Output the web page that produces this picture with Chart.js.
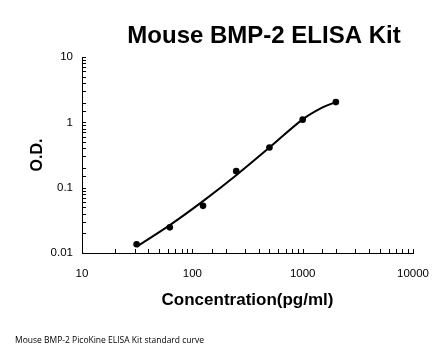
<!DOCTYPE html>
<html>
<head>
<meta charset="utf-8">
<script src="https://cdn.jsdelivr.net/npm/chart.js@4.4.1/dist/chart.umd.min.js"></script>
<style>
  html, body { margin: 0; padding: 0; background: #fff; }
  #wrap { width: 446px; height: 356px; position: relative; }
</style>
</head>
<body>
<div id="wrap"><canvas id="c" width="446" height="356"></canvas></div>
<script>
// ---- data ----
const chartTitle = "Mouse BMP-2 ELISA Kit";
const footnote = "Mouse BMP-2 PicoKine ELISA Kit standard curve";
const xAxisTitle = "Concentration(pg/ml)";
const yAxisTitle = "O.D.";

const concentrations = [31.25, 62.5, 125, 250, 500, 1000, 2000];
const odValues = [0.0136, 0.0247, 0.0527, 0.179, 0.411, 1.10, 2.04];

const curveConc = [31.25, 62.5, 125, 250, 500, 1000, 1500, 2000];
const curveOD = [0.0125, 0.0267, 0.0622, 0.155, 0.411, 1.11, 1.68, 2.04];

const xTickLabels = [10, 100, 1000, 10000];
const yTickLabels = [0.01, 0.1, 1, 10];

const FONT = "'Liberation Sans', Arial, sans-serif";

const pointsData = concentrations.map((x, i) => ({ x: x, y: odValues[i] }));
const curveData = curveConc.map((x, i) => ({ x: x, y: curveOD[i] }));

function isMajor(v, list) {
  return list.some(t => Math.abs(Math.log10(v) - Math.log10(t)) < 1e-6);
}

const insideTicks = {
  id: 'insideTicks',
  afterDraw(chart) {
    const ctx = chart.ctx;
    const xs = chart.scales.x, ys = chart.scales.y;
    const area = chart.chartArea;
    ctx.save();
    ctx.strokeStyle = '#000';
    ctx.lineWidth = 1;
    ctx.beginPath();
    xs.ticks.forEach(t => {
      const px = Math.round(xs.getPixelForValue(t.value)) + 0.5;
      ctx.moveTo(px, area.bottom);
      ctx.lineTo(px, area.bottom - 4);
    });
    ys.ticks.forEach(t => {
      const py = Math.round(ys.getPixelForValue(t.value)) + 0.5;
      ctx.moveTo(area.left, py);
      ctx.lineTo(area.left + 4, py);
    });
    ctx.stroke();
    ctx.restore();
  }
};

const textPlugin = {
  id: 'texts',
  afterDraw(chart) {
    const ctx = chart.ctx;
    ctx.save();
    ctx.fillStyle = '#000';
    ctx.font = "bold 24px " + FONT;
    ctx.textAlign = 'center';
    ctx.textBaseline = 'alphabetic';
    ctx.fillText(chartTitle, 264, 43);
    ctx.font = "8.5px 'Open Sans', " + FONT;
    ctx.textAlign = 'left';
    ctx.textBaseline = 'middle';
    ctx.fillText(footnote, 15, 341);
    ctx.restore();
  }
};

new Chart(document.getElementById('c'), {
  type: 'scatter',
  data: {
    datasets: [
      {
        label: 'curve',
        data: curveData,
        showLine: true,
        borderColor: '#000',
        borderWidth: 2,
        pointRadius: 0,
        tension: 0.35,
        fill: false,
        order: 2
      },
      {
        label: 'standards',
        data: pointsData,
        showLine: false,
        pointRadius: 3.3,
        pointBackgroundColor: '#000',
        pointBorderColor: '#000',
        pointBorderWidth: 0,
        order: 1
      }
    ]
  },
  options: {
    responsive: false,
    animation: false,
    devicePixelRatio: 1,
    layout: { padding: { left: 0, top: 57, right: 33, bottom: 0 } },
    plugins: {
      legend: { display: false },
      tooltip: { enabled: false },
      title: { display: false }
    },
    scales: {
      x: {
        type: 'logarithmic',
        min: 10,
        max: 10000,
        grid: { display: false, drawTicks: false },
        border: { display: true, color: '#000', width: 1 },
        ticks: {
          autoSkip: false,
          maxRotation: 0,
          padding: 14,
          color: '#000',
          font: { family: FONT, size: 11.5 },
          callback: (v) => isMajor(v, xTickLabels) ? String(v) : ''
        },
        title: {
          display: true,
          text: xAxisTitle,
          color: '#000',
          font: { family: FONT, size: 17, weight: 'bold' },
          padding: { top: 0, bottom: 45 }
        },
        afterFit(scale) { scale.height = 103; }
      },
      y: {
        type: 'logarithmic',
        min: 0.01,
        max: 10,
        grid: { display: false, drawTicks: false },
        border: { display: true, color: '#000', width: 1 },
        ticks: {
          autoSkip: false,
          padding: 9,
          color: '#000',
          font: { family: FONT, size: 11.5 },
          callback: (v) => {
            if (!isMajor(v, yTickLabels)) return '';
            const m = yTickLabels.find(t => isMajor(v, [t]));
            return String(m);
          }
        },
        title: {
          display: true,
          text: yAxisTitle,
          color: '#000',
          font: { family: FONT, size: 16, weight: 'bold' },
          padding: { top: 28, bottom: 0 }
        },
        afterFit(scale) { scale.width = 82; }
      }
    }
  },
  plugins: [insideTicks, textPlugin]
});
</script>
</body>
</html>
